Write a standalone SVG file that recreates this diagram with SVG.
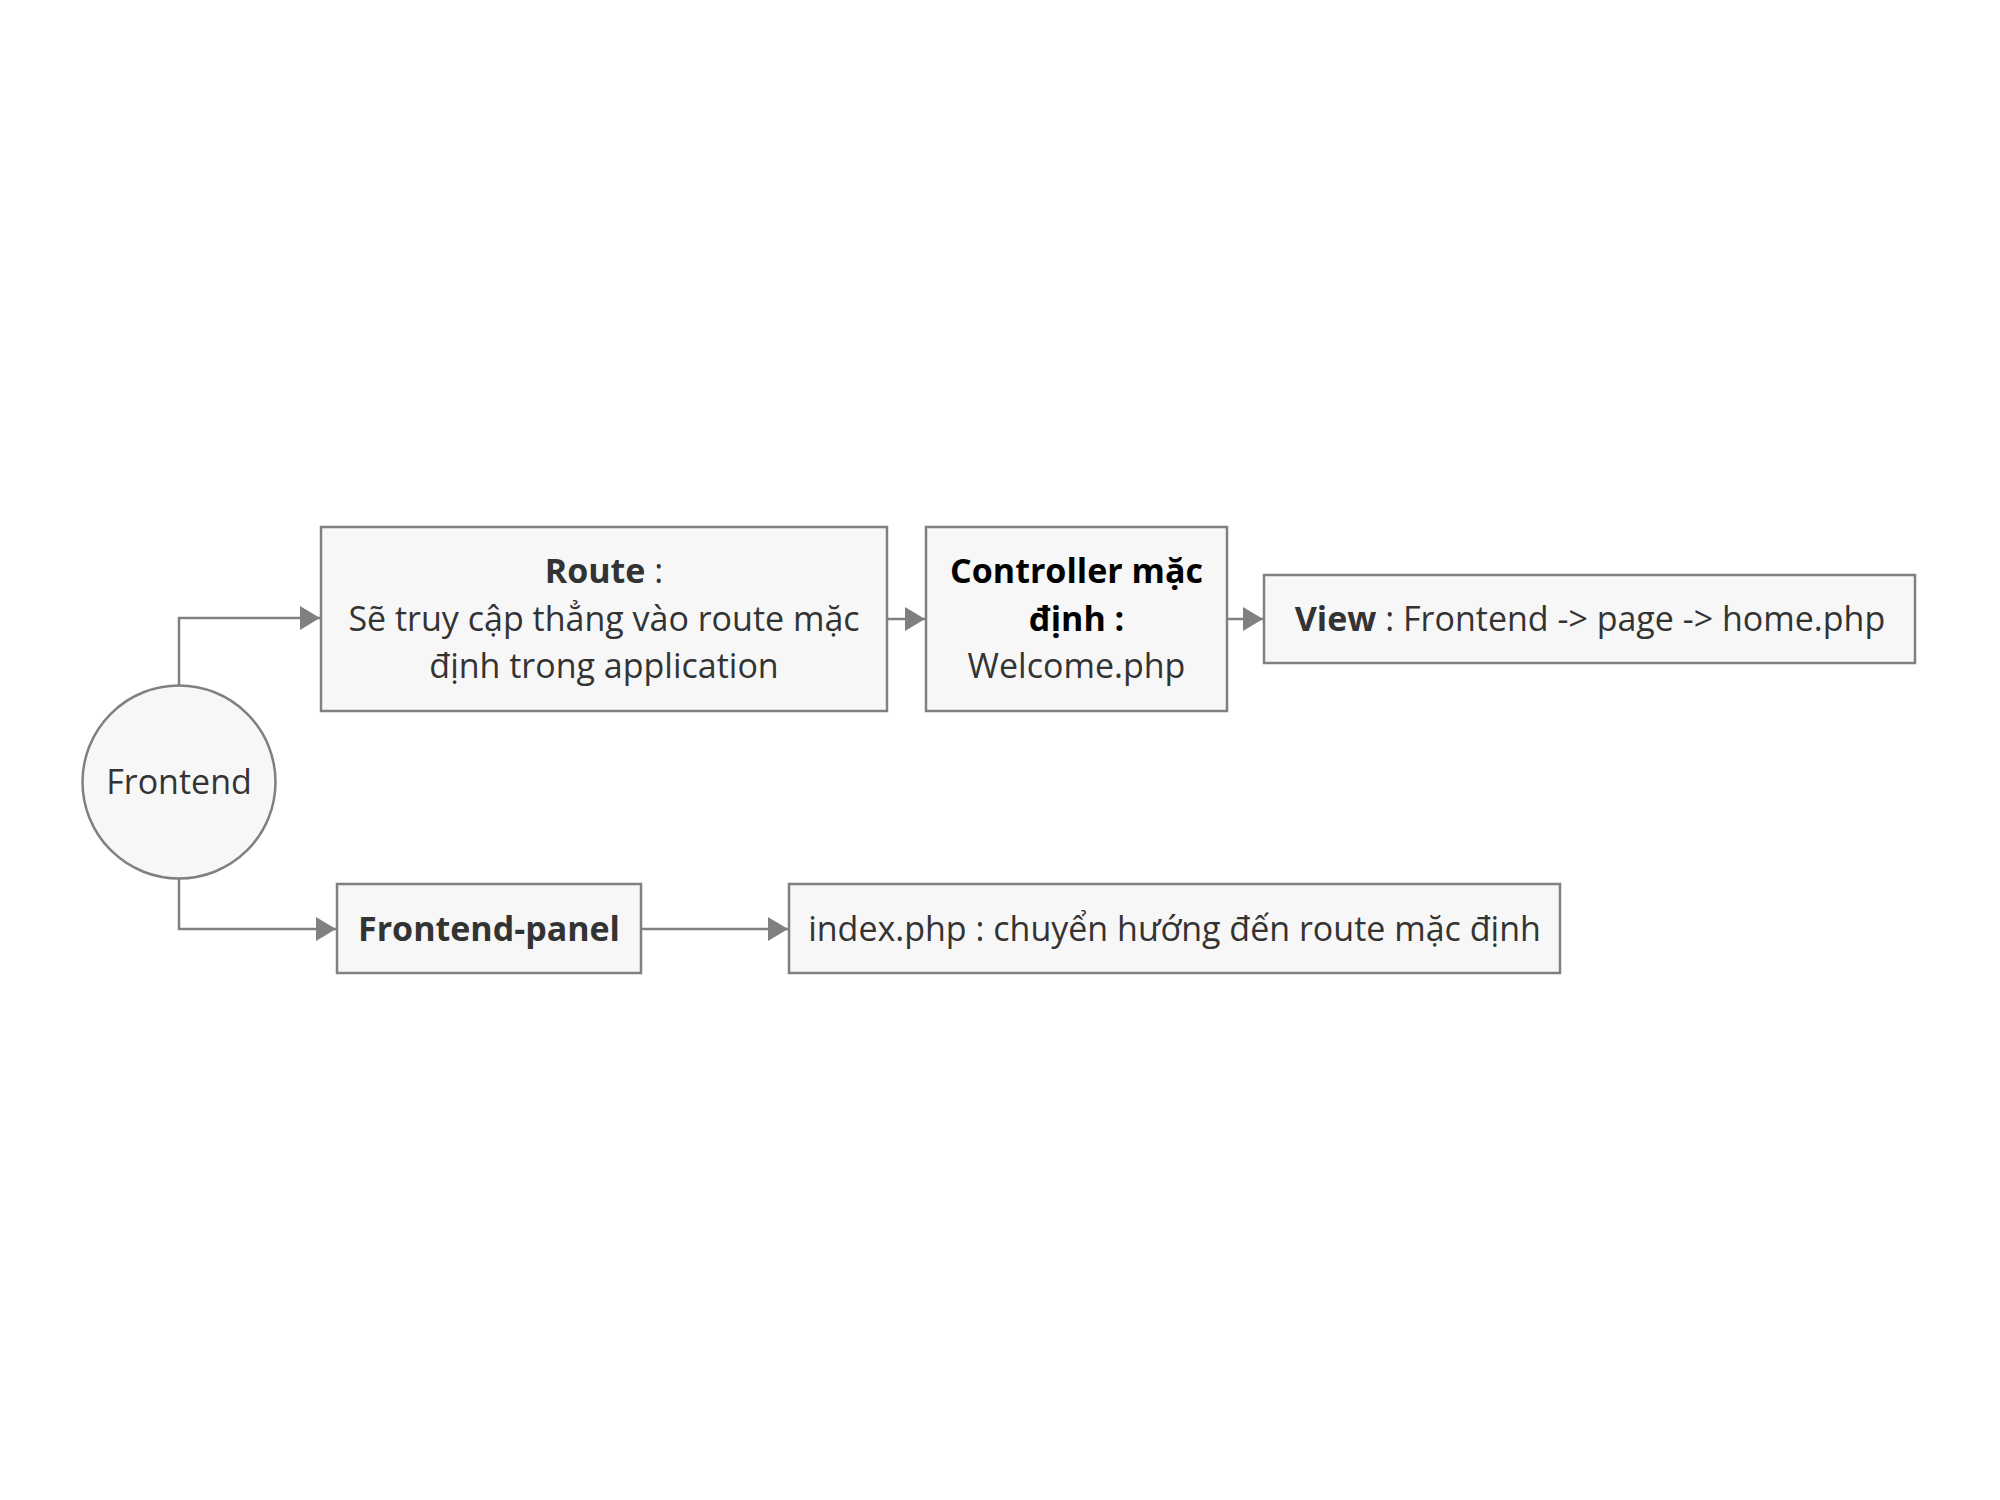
<svg xmlns="http://www.w3.org/2000/svg" width="2000" height="1500" viewBox="0 0 2000 1500">
<style>
.node{fill:#f7f7f7;stroke:#808080;stroke-width:2.5}
.t{font-family:"Open Sans","Noto Sans","DejaVu Sans",sans-serif;font-size:34px;fill:#333;text-anchor:middle}
.b{font-weight:bold}
.k{fill:#000}
.c{fill:none;stroke:#808080;stroke-width:2.5}
</style>
<defs>
<marker id="arr" markerUnits="userSpaceOnUse" markerWidth="22" markerHeight="26" refX="20" refY="12" orient="auto">
<path d="M0,0 L20,12 L0,24 Z" fill="#808080"/>
</marker>
</defs>
<rect width="2000" height="1500" fill="#fff"/>
<g id="connectors">
<path class="c" d="M179,686 V618 H320" marker-end="url(#arr)"/>
<path class="c" d="M887,619 H925" marker-end="url(#arr)"/>
<path class="c" d="M1227,619 H1263" marker-end="url(#arr)"/>
<path class="c" d="M179,879 V929 H336" marker-end="url(#arr)"/>
<path class="c" d="M641,929 H788" marker-end="url(#arr)"/>
</g>
<g id="frontend">
<circle class="node" cx="179" cy="782" r="96.5"/>
<text class="t" x="179" y="794">Frontend</text>
</g>
<g id="route">
<rect class="node" x="321" y="527" width="566" height="184"/>
<text class="t" x="604" y="583"><tspan class="b">Route</tspan> :</text>
<text class="t" x="604" y="631">Sẽ truy cập thẳng vào route mặc</text>
<text class="t" x="604" y="678">định trong application</text>
</g>
<g id="controller">
<rect class="node" x="926" y="527" width="301" height="184"/>
<text class="t b k" x="1076.5" y="583">Controller mặc</text>
<text class="t b k" x="1076.5" y="631">định :</text>
<text class="t" x="1076.5" y="678">Welcome.php</text>
</g>
<g id="view">
<rect class="node" x="1264" y="575" width="651" height="88"/>
<text class="t" x="1590" y="631"><tspan class="b">View</tspan> : Frontend -&gt; page -&gt; home.php</text>
</g>
<g id="frontend-panel">
<rect class="node" x="337" y="884" width="304" height="89"/>
<text class="t b" x="489" y="941">Frontend-panel</text>
</g>
<g id="index">
<rect class="node" x="789" y="884" width="771" height="89"/>
<text class="t" x="1174.5" y="941">index.php : chuyển hướng đến route mặc định</text>
</g>
</svg>
